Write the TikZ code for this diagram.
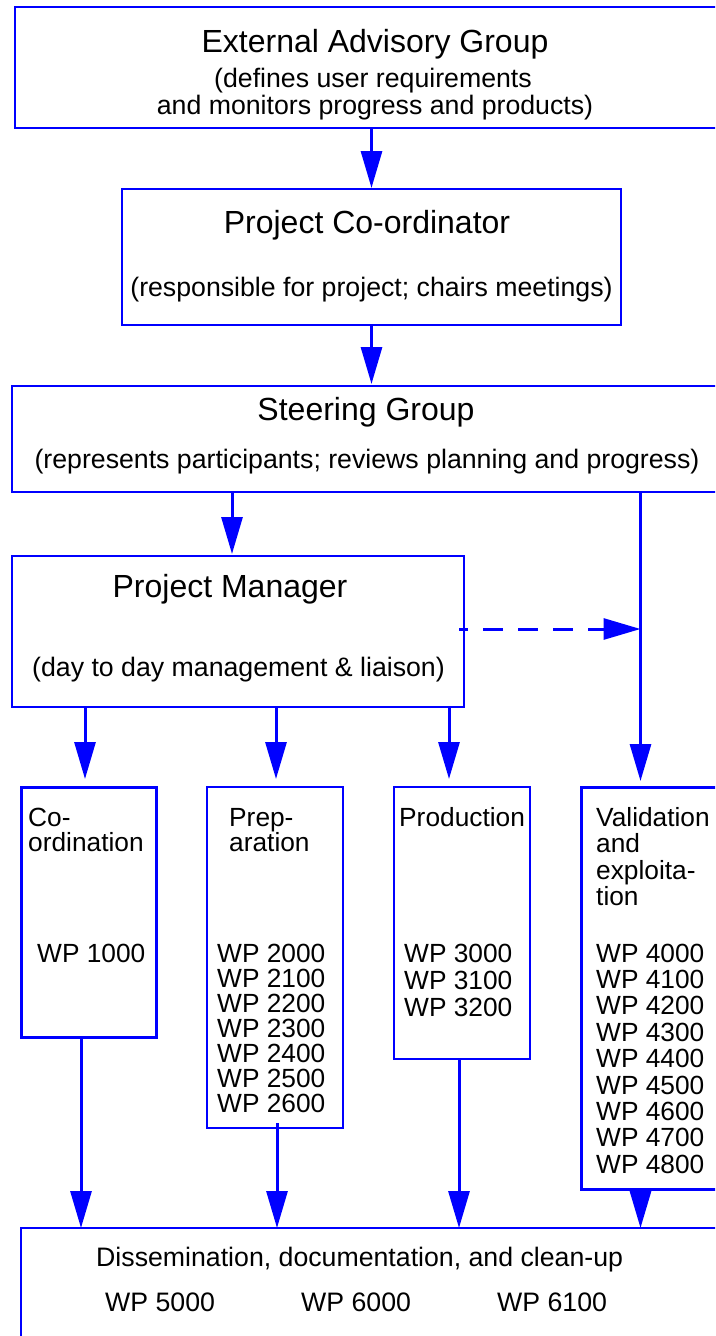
\documentclass[tikz,border=0pt]{standalone}
\usepackage{fontspec}
\setmainfont{Liberation Sans}
\usetikzlibrary{arrows.meta}
\begin{document}
\begin{tikzpicture}[x=1pt,y=-1pt,
  box/.style={draw=blue, rectangle, inner sep=0pt, outer sep=0pt, anchor=north west},
  arr/.style={draw=blue, line width=3pt, -{Triangle[length=37pt,width=21pt]}},
  darr/.style={arr, dash pattern=on 20pt off 15pt, dash phase=11pt},
  ttl/.style={font=\fontsize{32}{36}\selectfont, anchor=base, inner sep=0pt},
  sbt/.style={font=\fontsize{26.7}{30}\selectfont, anchor=base, inner sep=0pt},
  lbl/.style={font=\fontsize{26.3}{30}\selectfont, anchor=base west, inner sep=0pt},
]
\useasboundingbox (0,0) rectangle (715,1336);
\fill[white] (0,0) rectangle (715,1336);
\begin{scope}
\clip (0,0) rectangle (715,1336);
% boxes
\node[box, line width=2.5pt, minimum width=715pt, minimum height=121pt] (eag) at (15,7) {};
\node[box, line width=2pt, minimum width=499pt, minimum height=136pt] (pc) at (122,189) {};
\node[box, line width=1.2pt, minimum width=720pt, minimum height=106pt] (sg) at (12,386) {};
\node[box, line width=2.5pt, minimum width=452pt, minimum height=151pt] (pm) at (12,556) {};
\node[box, line width=3pt, minimum width=135pt, minimum height=250pt] (coord) at (21,787) {};
\node[box, line width=2.5pt, minimum width=136pt, minimum height=341pt] (prep) at (207,787) {};
\node[box, line width=2.5pt, minimum width=136pt, minimum height=272pt] (prod) at (394,787) {};
\node[box, line width=3pt, minimum width=150pt, minimum height=402pt] (val) at (581,787) {};
\node[box, line width=1.2pt, minimum width=710pt, minimum height=130pt] (diss) at (21,1228) {};

% texts
\node[ttl] (eagT) at (375,52.5) {External Advisory Group};
\node[sbt] (eagS1) at (373,87) {(defines user requirements};
\node[sbt] (eagS2) at (375,114) {and monitors progress and products)};
\node[ttl] (pcT) at (367,233.5) {Project Co-ordinator};
\node[sbt] (pcS) at (371.5,296) {(responsible for project; chairs meetings)};
\node[ttl] (sgT) at (366,420.5) {Steering Group};
\node[sbt] (sgS) at (367,468) {(represents participants; reviews planning and progress)};
\node[ttl] (pmT) at (230,597.5) {Project Manager};
\node[sbt] (pmS) at (238.5,676) {(day to day management \& liaison)};

\node[lbl] (cH1) at (28,826) {Co-};
\node[lbl] (cH2) at (28,851) {ordination};
\node[lbl] (cW) at (37,962) {WP 1000};

\node[lbl] (pH1) at (229,826) {Prep-};
\node[lbl] (pH2) at (229,851) {aration};
\foreach \t [count=\i from 0] in {2000,2100,2200,2300,2400,2500,2600}
  \node[lbl] (pW\i) at (217,{962+25*\i}) {WP \t};

\node[lbl] (dH) at (399,826) {Production};
\foreach \t [count=\i from 0] in {3000,3100,3200}
  \node[lbl] (dW\i) at (404,{962+27*\i}) {WP \t};

\foreach \t [count=\i from 0] in {Validation,and,exploita-,tion}
  \node[lbl] (vH\i) at (596,{826+26.5*\i}) {\t};
\foreach \t [count=\i from 0] in {4000,4100,4200,4300,4400,4500,4600,4700,4800}
  \node[lbl] (vW\i) at (596,{962+26.4*\i}) {WP \t};

\node[font=\fontsize{26.7}{30}\selectfont, anchor=base west, inner sep=0pt] (dsT) at (96,1266) {Dissemination, documentation, and clean-up};
\node[lbl, font=\fontsize{26.7}{30}\selectfont] (dsW1) at (105,1311) {WP 5000};
\node[lbl, font=\fontsize{26.7}{30}\selectfont] (dsW2) at (301,1311) {WP 6000};
\node[lbl, font=\fontsize{26.7}{30}\selectfont] (dsW3) at (497,1311) {WP 6100};

% connector x positions
\coordinate (xsp) at (232,0);
\coordinate (xv) at (640.5,0);
\coordinate (xc) at (85,0);
\coordinate (xp) at (276,0);
\coordinate (xd) at (449,0);
\coordinate (bc) at (81,0);
\coordinate (bp) at (277,0);
\coordinate (bd) at (459,0);
\coordinate (dy) at (0,629);

% connectors
\draw[arr, shorten >=1pt] (eag.south -| pc.north) -- (pc.north);
\draw[arr, shorten >=2pt] (pc.south) -- (pc.south |- sg.north);
\draw[arr, shorten >=2pt] (sg.south -| xsp) -- (pm.north -| xsp);
\draw[arr, shorten >=6pt] (sg.south -| xv) -- (val.north -| xv);
\draw[darr] ([xshift=-5pt]pm.east |- dy) -- (xv |- dy);
\draw[arr, shorten >=8pt] (pm.south -| xc) -- (coord.north -| xc);
\draw[arr, shorten >=8pt] (pm.south -| xp) -- (prep.north -| xp);
\draw[arr, shorten >=8pt] (pm.south -| xd) -- (prod.north -| xd);
\draw[arr] (coord.south -| bc) -- (diss.north -| bc);
\draw[arr] ([yshift=5pt]prep.south -| bp) -- (diss.north -| bp);
\draw[arr] (prod.south -| bd) -- (diss.north -| bd);
\draw[arr] (val.south -| xv) -- (diss.north -| xv);
\end{scope}
\end{tikzpicture}
\end{document}
